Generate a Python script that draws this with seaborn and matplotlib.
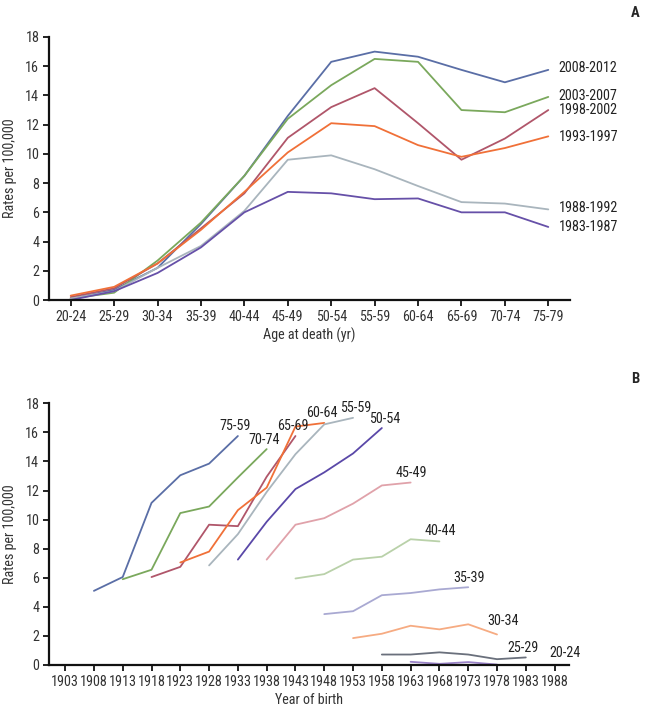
import matplotlib
matplotlib.use("Agg")
import matplotlib.pyplot as plt
from matplotlib import font_manager
import seaborn as sns
import pandas as pd
import numpy as np

# ---------------- Data ----------------
age_groups = ['20-24', '25-29', '30-34', '35-39', '40-44', '45-49',
              '50-54', '55-59', '60-64', '65-69', '70-74', '75-79']

periods = ['2008-2012', '2003-2007', '1998-2002', '1993-1997', '1988-1992', '1983-1987']
rate_2008 = [0.1, 0.7, 2.2, 5.2, 8.5, 12.6, 16.3, 17.0, 16.65, 15.75, 14.9, 15.75]
rate_2003 = [0.1, 0.5, 2.7, 5.3, 8.5, 12.4, 14.7, 16.5, 16.3, 13.0, 12.85, 13.9]
rate_1998 = [0.2, 0.8, 2.5, 4.9, 7.3, 11.1, 13.2, 14.5, 12.1, 9.6, 11.05, 13.0]
rate_1993 = [0.3, 0.9, 2.5, 4.8, 7.4, 10.1, 12.1, 11.9, 10.6, 9.8, 10.4, 11.2]
rate_1988 = [0.1, 0.6, 2.2, 3.7, 6.1, 9.6, 9.9, 8.95, 7.8, 6.7, 6.6, 6.2]
rate_1983 = [0.0, 0.6, 1.85, 3.6, 6.0, 7.4, 7.3, 6.9, 6.95, 6.0, 6.0, 5.0]

birth_ticks = [1903, 1908, 1913, 1918, 1923, 1928, 1933, 1938, 1943,
               1948, 1953, 1958, 1963, 1968, 1973, 1978, 1983, 1988]

cohort_labels = ['75-59', '70-74', '65-69', '60-64', '55-59', '50-54',
                 '45-49', '40-44', '35-39', '30-34', '25-29', '20-24']
years_75 = [1908, 1913, 1918, 1923, 1928, 1933]
vals_75 = [5.1, 6.05, 11.15, 13.05, 13.85, 15.75]
years_70 = [1913, 1918, 1923, 1928, 1933, 1938]
vals_70 = [5.9, 6.55, 10.45, 10.9, 12.9, 14.85]
years_65 = [1918, 1923, 1928, 1933, 1938, 1943]
vals_65 = [6.05, 6.75, 9.65, 9.55, 12.95, 15.75]
years_60 = [1923, 1928, 1933, 1938, 1943, 1948]
vals_60 = [7.05, 7.8, 10.65, 12.2, 16.4, 16.65]
years_55 = [1928, 1933, 1938, 1943, 1948, 1953]
vals_55 = [6.85, 9.0, 11.9, 14.5, 16.55, 17.0]
years_50 = [1933, 1938, 1943, 1948, 1953, 1958]
vals_50 = [7.25, 9.85, 12.1, 13.25, 14.55, 16.3]
years_45 = [1938, 1943, 1948, 1953, 1958, 1963]
vals_45 = [7.25, 9.65, 10.1, 11.1, 12.35, 12.55]
years_40 = [1943, 1948, 1953, 1958, 1963, 1968]
vals_40 = [5.95, 6.25, 7.25, 7.45, 8.65, 8.5]
years_35 = [1948, 1953, 1958, 1963, 1968, 1973]
vals_35 = [3.5, 3.7, 4.8, 4.95, 5.2, 5.35]
years_30 = [1953, 1958, 1963, 1968, 1973, 1978]
vals_30 = [1.85, 2.15, 2.7, 2.45, 2.8, 2.1]
years_25 = [1958, 1963, 1968, 1973, 1978, 1983]
vals_25 = [0.72, 0.72, 0.87, 0.72, 0.4, 0.52]
years_20 = [1963, 1968, 1973, 1978]
vals_20 = [0.22, 0.08, 0.2, 0.03]

# ---------------- Style ----------------
sns.set_style("white")
avail = {f.name for f in font_manager.fontManager.ttflist}
fam = [f for f in ["Liberation Sans Narrow", "Roboto Condensed", "Liberation Sans"] if f in avail]
plt.rcParams['font.family'] = fam + ['DejaVu Sans']

period_colors = ['#5a6ea6', '#7aa85c', '#b0566a', '#f07038', '#a9b5bd', '#6650a8']
cohort_colors = ['#5a6ea6', '#7aa85c', '#b0566a', '#f07038', '#a9b5bd', '#5a48a8',
                 '#e0a2aa', '#b9d1a9', '#a9a9d2', '#f6ab82', '#6a707c', '#9a82c8']

text_col = '#333333'
FS = 10.2
fig = plt.figure(figsize=(6.47, 7.15), dpi=100)
axA = fig.add_axes([49/647, 1-300/715, (570-49)/647, (300-37)/715])
axB = fig.add_axes([49/647, 1-665/715, (569-49)/647, (665-403.3)/715])

# ---------------- Panel A ----------------
rates = [rate_2008, rate_2003, rate_1998, rate_1993, rate_1988, rate_1983]
dfA = pd.DataFrame({
    'pos': np.tile(np.arange(len(age_groups)), len(periods)),
    'rate': np.concatenate(rates),
    'period': np.repeat(periods, len(age_groups)),
})
sns.lineplot(data=dfA, x='pos', y='rate', hue='period', hue_order=periods,
             palette=period_colors, linewidth=1.3, legend=False, ax=axA)
label_y_A = [15.88, 13.97, 13.02, 11.18, 6.27, 4.98]
for p, ly in zip(periods, label_y_A):
    axA.text(11.24, ly, p, fontsize=FS, color='#222222', va='center', ha='left',
             clip_on=False)
axA.set_xlim(-0.5, 11.5)
axA.set_ylim(0, 18)
axA.set_xticks(np.arange(len(age_groups)))
axA.set_xticklabels(age_groups)
axA.set_yticks(np.arange(0, 19, 2))
axA.set_xlabel('Age at death (yr)', fontsize=FS, color=text_col, labelpad=3)
axA.set_ylabel('Rates per 100,000', fontsize=FS, color=text_col, labelpad=6)
fig.text(635/647, 1-13/715, 'A', fontsize=10.5, fontweight='bold', ha='center', va='center')

# ---------------- Panel B ----------------
years_list = [years_75, years_70, years_65, years_60, years_55, years_50,
              years_45, years_40, years_35, years_30, years_25, years_20]
vals_list = [vals_75, vals_70, vals_65, vals_60, vals_55, vals_50,
             vals_45, vals_40, vals_35, vals_30, vals_25, vals_20]
rows = []
for lab, ys, vs in zip(cohort_labels, years_list, vals_list):
    for y, v in zip(ys, vs):
        rows.append((lab, y, v))
dfB = pd.DataFrame(rows, columns=['age', 'year', 'rate'])
sns.lineplot(data=dfB, x='year', y='rate', hue='age', hue_order=cohort_labels,
             palette=cohort_colors, linewidth=1.3, legend=False, ax=axB)
label_pos_B = [(1932.5, 16.44), (1937.6, 15.47), (1942.5, 16.44), (1947.6, 17.33),
               (1953.4, 17.68), (1958.5, 16.92), (1963.2, 13.2), (1968.1, 9.22),
               (1973.1, 5.98), (1979.0, 3.03), (1982.5, 1.17), (1989.8, 0.83)]
for lab, (lx, ly) in zip(cohort_labels, label_pos_B):
    axB.text(lx, ly, lab, fontsize=FS, color='#222222', ha='center', va='center',
             clip_on=False)
axB.set_xlim(1900.2, 1990.5)
axB.set_ylim(0, 18)
axB.set_xticks(birth_ticks)
axB.set_xticklabels([str(t) for t in birth_ticks])
axB.set_yticks(np.arange(0, 19, 2))
axB.set_xlabel('Year of birth', fontsize=FS, color=text_col, labelpad=3)
axB.set_ylabel('Rates per 100,000', fontsize=FS, color=text_col, labelpad=6)
fig.text(635/647, 1-379/715, 'B', fontsize=10.5, fontweight='bold', ha='center', va='center')

for ax in (axA, axB):
    sns.despine(ax=ax)
    for s in ('left', 'bottom'):
        ax.spines[s].set_linewidth(1.6)
        ax.spines[s].set_color('#111111')
    ax.tick_params(axis='both', which='major', direction='out', length=4, width=1.3,
                   color='#111111', labelsize=FS, labelcolor=text_col, pad=3,
                   left=True, bottom=True)

fig.savefig('out.png', dpi=100)
